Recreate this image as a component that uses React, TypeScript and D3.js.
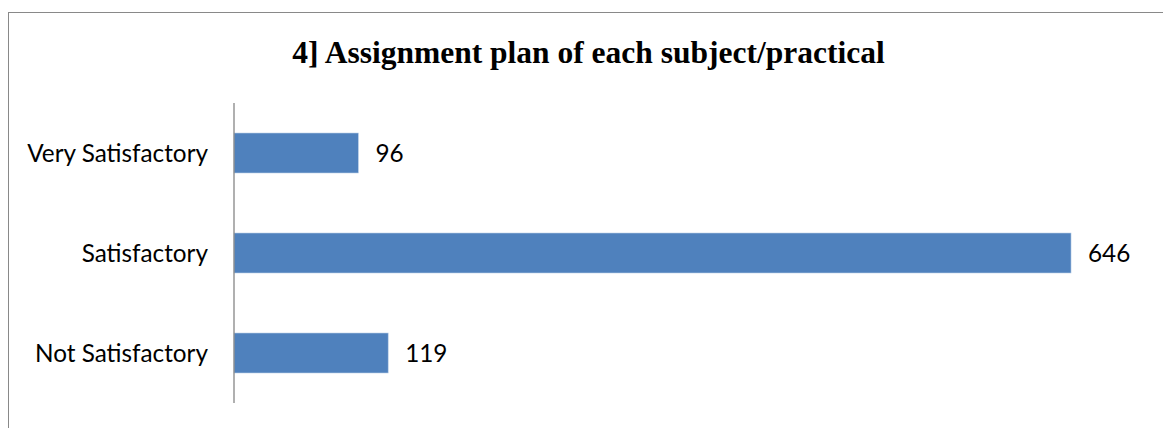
import React from "react";
import * as d3 from "d3";

const categories: string[] = ["Very Satisfactory", "Satisfactory", "Not Satisfactory"];
const values: number[] = [96, 646, 119];
const axisMax = 700;
const title = "4] Assignment plan of each subject/practical";

const W = 1163;
const H = 428;

export default function App() {
  const x = d3.scaleLinear().domain([0, axisMax]).range([234, 1141]);
  const y = d3
    .scaleBand<string>()
    .domain(categories)
    .range([103, 403])
    .paddingInner(0.6)
    .paddingOuter(0.3);

  const labelFont = "Lato, 'Open Sans', sans-serif";

  return (
    <svg
      width={W}
      height={H}
      style={{ position: "absolute", left: 0, top: 0, background: "#fff" }}
    >
      <rect x={8.5} y={12.5} width={W} height={H} fill="#fff" stroke="#898989" strokeWidth={1} />
      <text
        x={588.5}
        y={63}
        textAnchor="middle"
        fontFamily="'Liberation Serif', 'Times New Roman', serif"
        fontWeight="bold"
        fontSize={31.5}
        fill="#000"
      >
        {title}
      </text>
      {categories.map((c, i) => (
        <g key={c}>
          <rect
            x={x(0)}
            y={y(c)!}
            width={x(values[i]) - x(0)}
            height={y.bandwidth()}
            fill="#4F81BD"
            stroke="#BCD0E8"
            strokeWidth={0.6}
          />
          <text
            x={208}
            y={y(c)! + y.bandwidth() / 2}
            dy="0.35em"
            textAnchor="end"
            fontFamily={labelFont}
            fontSize={24.3}
            fill="#000"
          >
            {c}
          </text>
          <text
            x={x(values[i]) + 17}
            y={y(c)! + y.bandwidth() / 2}
            dy="0.35em"
            textAnchor="start"
            fontFamily={labelFont}
            fontSize={24.3}
            fill="#000"
          >
            {values[i]}
          </text>
        </g>
      ))}
      <line x1={x(0)} x2={x(0)} y1={103} y2={403} stroke="#868686" strokeWidth={1.3} />
    </svg>
  );
}
